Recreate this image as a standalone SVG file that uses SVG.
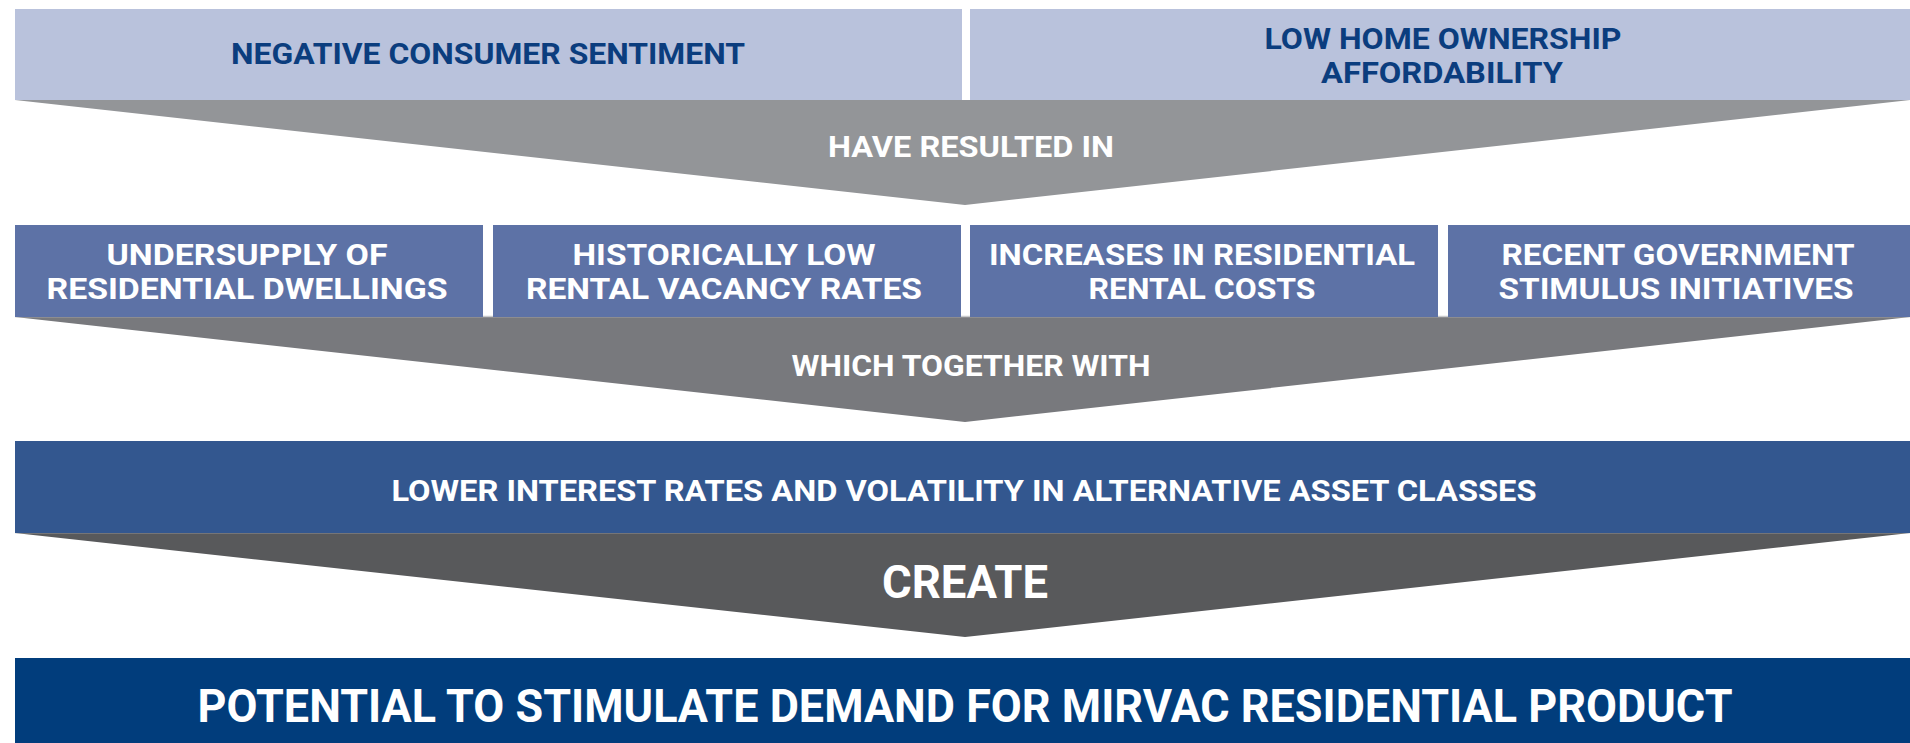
<svg xmlns="http://www.w3.org/2000/svg" width="1910" height="743" viewBox="0 0 1910 743">
  <style>
    .t { font-family: Roboto, "Liberation Sans", Arial, sans-serif; font-weight: bold; text-anchor: middle; }
    .s { font-size: 30px; }
    .l { font-size: 46px; }
    .dark { fill: #0B3D7E; }
    .white { fill: #FFFFFF; }
    .top { fill: #B9C2DC; }
    .mid { fill: #5D72A6; }
    .bar { fill: #33578F; }
    .base { fill: #013D7C; }
    .edge { stroke: #C9CACC; stroke-width: 1.5; }
  </style>

  <!-- chevrons linking each row to the next -->
  <g id="connectors">
    <polygon id="arrow-have-resulted-in" points="15,100 1910,100 965,205" fill="#939598"/>
    <polygon id="arrow-which-together-with" points="15,317 1910,317 965,422" fill="#78797D"/>
    <polygon id="arrow-create" points="15,533 1910,533 965,637" fill="#58595B"/>
    <line class="edge" x1="15" y1="316.5" x2="1910" y2="316.5"/>
    <line class="edge" x1="15" y1="532.5" x2="1910" y2="532.5"/>
    <text class="t s white" x="971" y="157" textLength="286" lengthAdjust="spacingAndGlyphs">HAVE RESULTED IN</text>
    <text class="t s white" x="971" y="376" textLength="359" lengthAdjust="spacingAndGlyphs">WHICH TOGETHER WITH</text>
    <text class="t l white" x="965" y="598" textLength="166" lengthAdjust="spacingAndGlyphs">CREATE</text>
  </g>

  <!-- row 1 -->
  <g id="negative-consumer-sentiment">
    <rect class="top" x="15" y="9" width="947" height="91"/>
    <text class="t s dark" x="488" y="64" textLength="514" lengthAdjust="spacingAndGlyphs">NEGATIVE CONSUMER SENTIMENT</text>
  </g>
  <g id="low-home-ownership-affordability">
    <rect class="top" x="970" y="9" width="940" height="91"/>
    <text class="t s dark" x="1443" y="49" textLength="357" lengthAdjust="spacingAndGlyphs">LOW HOME OWNERSHIP</text>
    <text class="t s dark" x="1442" y="83" textLength="242" lengthAdjust="spacingAndGlyphs">AFFORDABILITY</text>
  </g>

  <!-- row 2 -->
  <g id="undersupply">
    <rect class="mid" x="15" y="225" width="468" height="92"/>
    <text class="t s white" x="247" y="265" textLength="281" lengthAdjust="spacingAndGlyphs">UNDERSUPPLY OF</text>
    <text class="t s white" x="247" y="299" textLength="401" lengthAdjust="spacingAndGlyphs">RESIDENTIAL DWELLINGS</text>
  </g>
  <g id="low-vacancy">
    <rect class="mid" x="493" y="225" width="468" height="92"/>
    <text class="t s white" x="724" y="265" textLength="303" lengthAdjust="spacingAndGlyphs">HISTORICALLY LOW</text>
    <text class="t s white" x="724" y="299" textLength="396" lengthAdjust="spacingAndGlyphs">RENTAL VACANCY RATES</text>
  </g>
  <g id="rental-costs">
    <rect class="mid" x="970" y="225" width="468" height="92"/>
    <text class="t s white" x="1202" y="265" textLength="426" lengthAdjust="spacingAndGlyphs">INCREASES IN RESIDENTIAL</text>
    <text class="t s white" x="1202" y="299" textLength="227" lengthAdjust="spacingAndGlyphs">RENTAL COSTS</text>
  </g>
  <g id="government-stimulus">
    <rect class="mid" x="1448" y="225" width="462" height="92"/>
    <text class="t s white" x="1678" y="265" textLength="353" lengthAdjust="spacingAndGlyphs">RECENT GOVERNMENT</text>
    <text class="t s white" x="1676" y="299" textLength="355" lengthAdjust="spacingAndGlyphs">STIMULUS INITIATIVES</text>
  </g>

  <!-- row 3 -->
  <g id="lower-interest-rates">
    <rect class="bar" x="15" y="441" width="1895" height="92"/>
    <text class="t s white" x="964" y="501" textLength="1145" lengthAdjust="spacingAndGlyphs">LOWER INTEREST RATES AND VOLATILITY IN ALTERNATIVE ASSET CLASSES</text>
  </g>

  <!-- outcome -->
  <g id="potential-demand">
    <rect class="base" x="15" y="658" width="1895" height="85"/>
    <text class="t l white" x="965" y="722" textLength="1535" lengthAdjust="spacingAndGlyphs">POTENTIAL TO STIMULATE DEMAND FOR MIRVAC RESIDENTIAL PRODUCT</text>
  </g>
</svg>
